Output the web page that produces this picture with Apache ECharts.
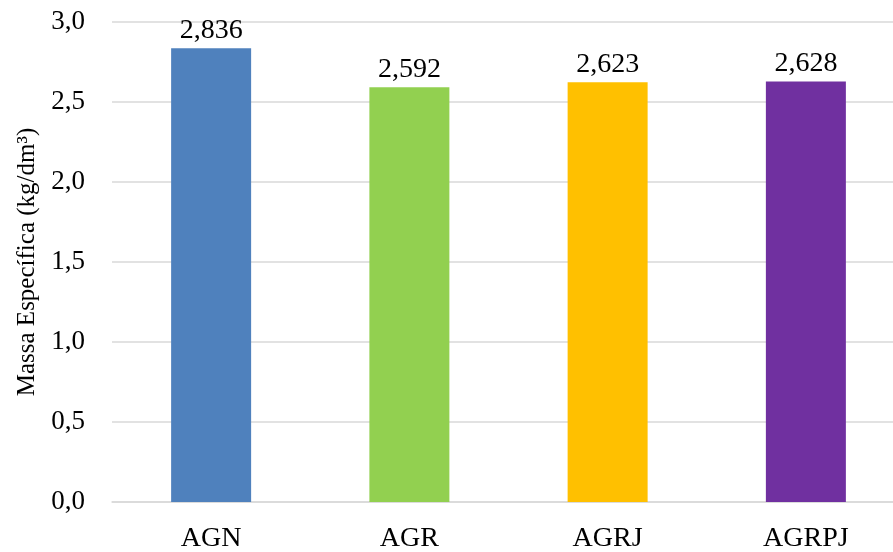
<!DOCTYPE html>
<html>
<head>
<meta charset="utf-8">
<script src="https://cdn.jsdelivr.net/npm/echarts@6/dist/echarts.min.js"></script>
<style>
  html, body { margin: 0; padding: 0; background: #fff; }
  #main { width: 893px; height: 552px; }
</style>
</head>
<body>
<div id="main"></div>
<script>
// dados do gráfico
var categorias = ['AGN', 'AGR', 'AGRJ', 'AGRPJ'];
var valores = [2.836, 2.592, 2.623, 2.628];
var cores = ['#4F81BD', '#92D050', '#FFC000', '#7030A0'];
var nomeEixo = 'Massa Específica (kg/dm³)';

var fonte = '"Liberation Serif", "Times New Roman", serif';

function virgula(v, casas) {
    return v.toFixed(casas).replace('.', ',');
}

var myChart = echarts.init(document.getElementById('main'));

var dados = [];
for (var i = 0; i < valores.length; i++) {
    dados.push({ value: valores[i], itemStyle: { color: cores[i] } });
}

option = {
    animation: false,
    backgroundColor: '#fff',
    grid: {
        left: 112,
        top: 22,
        bottom: 50,
        right: -12,
        outerBoundsMode: 'none'
    },
    xAxis: {
        type: 'category',
        data: categorias,
        axisLine: { lineStyle: { color: '#d9d9d9', width: 1.5 } },
        axisTick: { show: false },
        axisLabel: {
            color: '#000',
            fontFamily: fonte,
            fontSize: 28,
            margin: 23
        }
    },
    yAxis: {
        type: 'value',
        min: 0,
        max: 3,
        interval: 0.5,
        name: nomeEixo,
        nameLocation: 'middle',
        nameGap: 72,
        nameTextStyle: {
            color: '#000',
            fontFamily: fonte,
            fontSize: 25
        },
        axisLine: { show: false },
        axisTick: { show: false },
        splitLine: { lineStyle: { color: '#d9d9d9', width: 1.5 } },
        axisLabel: {
            color: '#000',
            fontFamily: fonte,
            fontSize: 27,
            margin: 27,
            formatter: function (v) { return virgula(v, 1); }
        }
    },
    series: [
        {
            type: 'bar',
            data: dados,
            barWidth: 80,
            label: {
                show: true,
                position: 'top',
                distance: 4,
                color: '#000',
                fontFamily: fonte,
                fontSize: 28,
                formatter: function (p) { return virgula(p.value, 3); }
            }
        }
    ]
};

myChart.setOption(option);
</script>
</body>
</html>
